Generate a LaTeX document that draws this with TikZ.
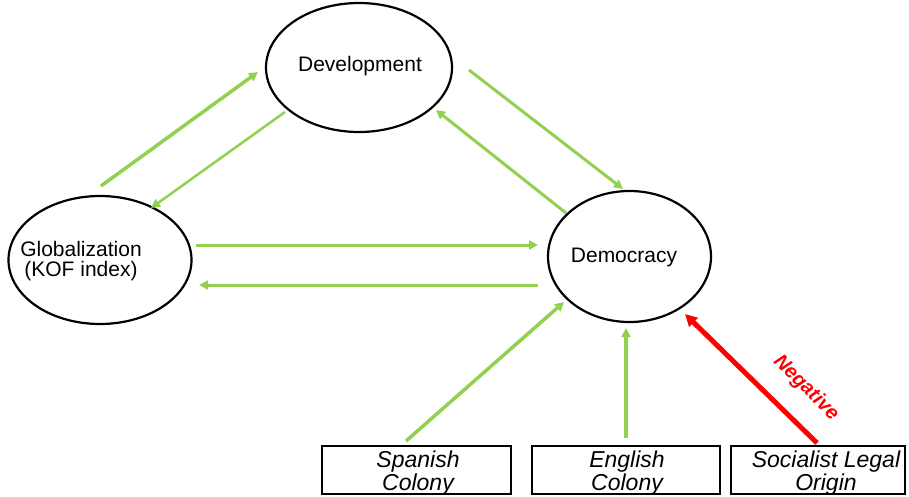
\documentclass[tikz,border=0pt]{standalone}
\usepackage{fontspec}
\setmainfont{Liberation Sans}
\usetikzlibrary{shapes.geometric,arrows.meta}
\definecolor{grn}{HTML}{92D050}
\definecolor{rd}{HTML}{FF0000}
\tikzset{
  oval/.style={draw=black, line width=2.2pt, ellipse, inner sep=0pt},
  lbl/.style={font=\fontsize{21}{20}\selectfont, align=center, inner sep=0pt},
  boxnode/.style={draw=black, line width=2pt, inner sep=0pt},
  boxlbl/.style={font=\fontsize{23}{21}\itshape, align=center, inner sep=0pt},
  garrow/.style={draw=grn, line width=3pt, -{Triangle[length=9pt,width=9pt]}},
  rarrow/.style={draw=rd, line width=5pt, -{Triangle[length=12pt,width=12pt]}}
}
\begin{document}
\begin{tikzpicture}[x=1pt,y=-1pt]
\useasboundingbox (0,0) rectangle (909,496);
% ovals
\node[oval, minimum width=186pt, minimum height=129pt] (dev) at (359,67.5) {};
\node[oval, minimum width=183pt, minimum height=128pt] (glob) at (100,260) {};
\node[oval, minimum width=163pt, minimum height=131pt] (dem) at (629.5,256.5) {};
\node[lbl] (devt) at (360,66) {Development};
\node[lbl] (globt) at (81,261) {Globalization\\(KOF index)};
\node[lbl] (demt) at (624,257) {Democracy};
% boxes
\node[boxnode, minimum width=189pt, minimum height=48pt] (spa) at (416.5,470) {};
\node[boxnode, minimum width=188pt, minimum height=48pt] (eng) at (626,470) {};
\node[boxnode, minimum width=174pt, minimum height=48pt] (soc) at (818,470) {};
\node[boxlbl] (spat) at (418,473) {Spanish\\Colony};
\node[boxlbl] (engt) at (627,473) {English\\Colony};
\node[boxlbl] (soct) at (826,473) {Socialist Legal\\Origin};
% arrow endpoints
\coordinate (a1s) at (101,186); \coordinate (a1e) at (258,72);
\coordinate (a2s) at (285,112); \coordinate (a2e) at (151,208);
\coordinate (a3s) at (469,70);  \coordinate (a3e) at (623,189);
\coordinate (a4s) at (566,213); \coordinate (a4e) at (436,110);
\coordinate (a5s) at (196,245); \coordinate (a5e) at (538,245);
\coordinate (a6s) at (538,285); \coordinate (a6e) at (199,285);
\coordinate (a7s) at (406,441); \coordinate (a7e) at (564,302);
\coordinate (a8s) at (626,438); \coordinate (a8e) at (626,328);
\coordinate (a9s) at (817,443); \coordinate (a9e) at (685,314);
\draw[garrow, line width=3.5pt] (a1s) -- (a1e);
\draw[garrow, line width=2.5pt] (a2s) -- (a2e);
\draw[garrow] (a3s) -- (a3e);
\draw[garrow] (a4s) -- (a4e);
\draw[garrow] (a5s) -- (a5e);
\draw[garrow] (a6s) -- (a6e);
\draw[garrow, line width=3.5pt] (a7s) -- (a7e);
\draw[garrow, line width=3.5pt] (a8s) -- (a8e);
\draw[rarrow] (a9s) -- (a9e);
\node[text=rd, font=\fontsize{20}{20}\bfseries\itshape, rotate=-45, inner sep=0pt] (neg) at (806,388) {Negative};
\end{tikzpicture}
\end{document}
